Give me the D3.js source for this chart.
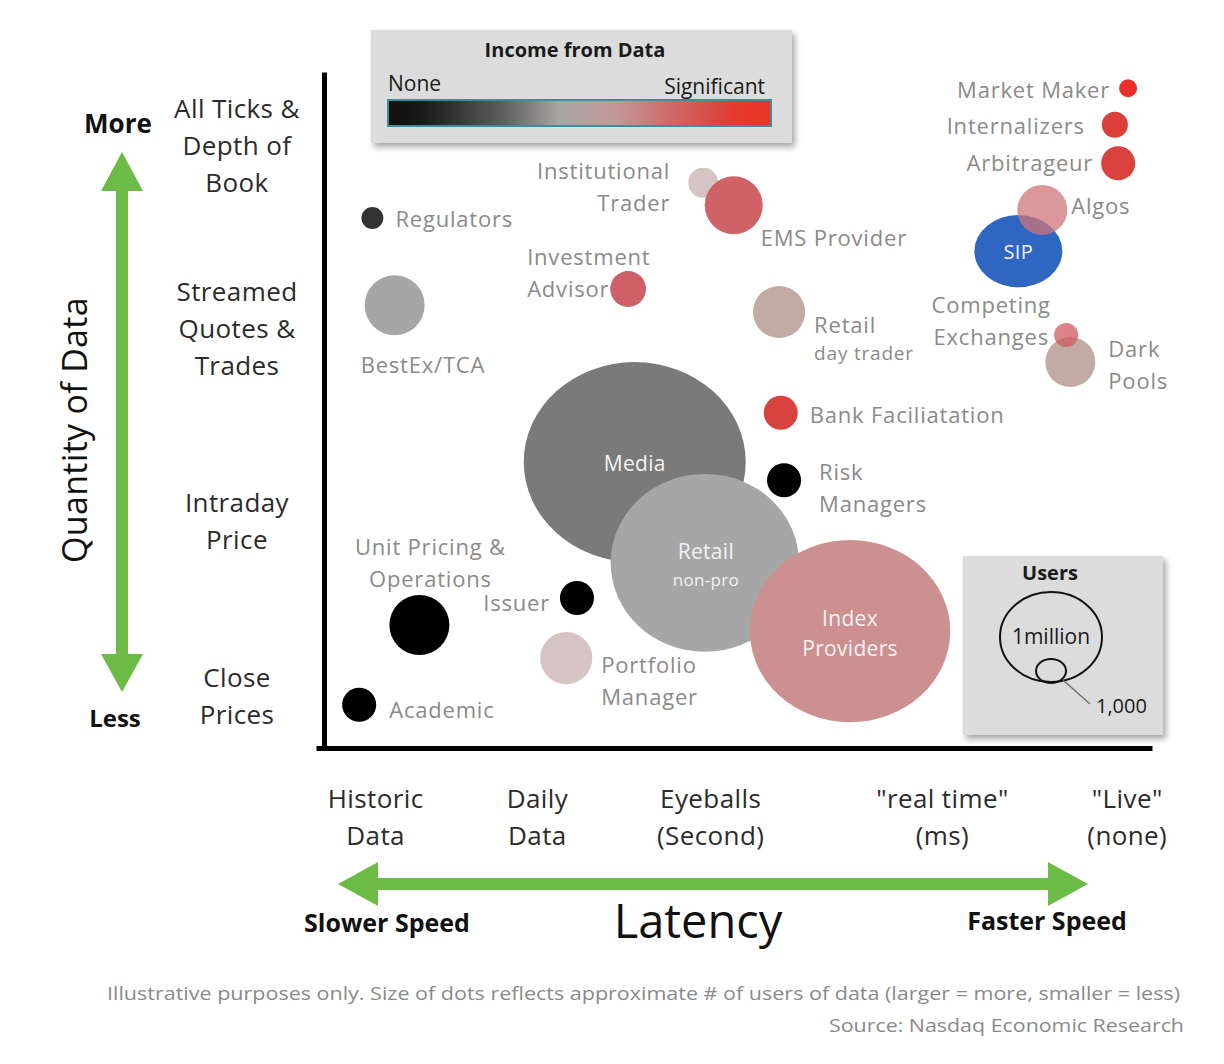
<!DOCTYPE html>
<html><head><meta charset="utf-8">
<script src="https://cdn.jsdelivr.net/npm/d3@7"></script>
<style>
html,body{margin:0;padding:0;background:#fff;}
svg{display:block;font-family:"Open Sans","Noto Sans",sans-serif;}
</style></head>
<body>
<svg id="chart" width="1224" height="1064"></svg>
<script>
// ---------------- DATA ----------------
const names = ["Media","Retail non-pro","Index Providers","SIP","Algos","Market Maker","Internalizers","Arbitrageur",
  "Dark Pools","Competing Exchanges","Institutional Trader","EMS Provider","Investment Advisor","Retail day trader",
  "Regulators","BestEx/TCA","Bank Faciliatation","Risk Managers","Unit Pricing & Operations","Issuer","Portfolio Manager","Academic"];
// latency: 0 = historic data ... 100 = live
const latency  = [37.3,45.8,63.4,83.8,86.7,97.1,95.5,95.9,90.1,89.6,45.6,49.3,36.5,54.8,5.5,8.2,55.0,55.4,11.2,30.3,29.0,3.9];
// quantity of data: 0 = close prices ... 100 = all ticks & depth of book
const quantity = [42.3,27.4,17.3,73.5,79.6,97.6,92.2,86.5,57.1,61.1,83.6,80.3,67.9,64.5,78.4,65.5,49.6,39.6,18.2,22.2,13.3,6.4];
// approximate relative number of users
const users    = [100,79,83,13,6.25,0.8,1.7,2.9,6.25,1.45,2.25,8.4,3.2,6.8,1.2,9,2.9,2.9,9,2.9,6.8,2.9];
// income from data: 0 = none ... 1 = significant (SIP shown separately)
const income   = [0.25,0.38,0.65,null,0.72,1.0,0.92,0.9,0.55,0.8,0.48,0.8,0.78,0.55,0.1,0.38,0.9,0,0,0,0.48,0];

const xCategories = ["Historic\nData","Daily\nData","Eyeballs\n(Second)","\"real time\"\n(ms)","\"Live\"\n(none)"];
const xCategoryValues = [5.9,25.5,46.5,74.6,97.0];
const yCategories = ["All Ticks &\nDepth of\nBook","Streamed\nQuotes &\nTrades","Intraday\nPrice","Close\nPrices"];
const yCategoryValues = [89.2,62.1,33.6,7.7];

// ---------------- STYLE / LAYOUT ----------------
const aspect = {"Media":1.11,"Retail non-pro":1.06,"Index Providers":1.1,"SIP":1.22};
const special = {"SIP":"#2e66c2"};
const translucent = {"Algos":0.75,"Competing Exchanges":0.75,"EMS Provider":0.95};
// label layout relative to bubble centre: [text, dx, dy, size]
const labels = {
 "Market Maker":{a:"end",l:[["Market Maker",-18,1]]},
 "Internalizers":{a:"end",l:[["Internalizers",-30,0]]},
 "Arbitrageur":{a:"end",l:[["Arbitrageur",-25,-1]]},
 "Algos":{a:"start",l:[["Algos",29,-5]]},
 "SIP":{a:"middle",w:true,l:[["SIP",0,0,20]]},
 "Competing Exchanges":{a:"middle",l:[["Competing",-75,-31],["Exchanges",-75,1]]},
 "Dark Pools":{a:"start",l:[["Dark",38,-14],["Pools",38,18]]},
 "Institutional Trader":{a:"end",l:[["Institutional",-33,-13],["Trader",-33,19]]},
 "EMS Provider":{a:"start",l:[["EMS Provider",27,32]]},
 "Investment Advisor":{a:"start",l:[["Investment",-101,-33],["Advisor",-101,-1]]},
 "Retail day trader":{a:"start",l:[["Retail",35,12],["day trader",35,41,19]]},
 "Regulators":{a:"start",l:[["Regulators",23,0]]},
 "BestEx/TCA":{a:"start",l:[["BestEx/TCA",-34,59]]},
 "Bank Faciliatation":{a:"start",l:[["Bank Faciliatation",29,1]]},
 "Risk Managers":{a:"start",l:[["Risk",35,-9],["Managers",35,23]]},
 "Media":{a:"middle",w:true,l:[["Media",0,1,21]]},
 "Retail non-pro":{a:"middle",w:true,l:[["Retail",1,-12,21],["non-pro",1,17,17]]},
 "Index Providers":{a:"middle",w:true,l:[["Index",0,-13,21],["Providers",0,17,21]]},
 "Unit Pricing & Operations":{a:"middle",l:[["Unit Pricing &",11,-79],["Operations",11,-47]]},
 "Issuer":{a:"end",l:[["Issuer",-27,4]]},
 "Portfolio Manager":{a:"start",l:[["Portfolio",35,6],["Manager",35,38]]},
 "Academic":{a:"start",l:[["Academic",30,4]]}
};

const svg = d3.select("#chart");
const x = d3.scaleLinear().domain([0,100]).range([327,1152]);
const y = d3.scaleLinear().domain([0,100]).range([748,72]);
const r = d3.scaleSqrt().domain([0,100]).range([0,100]);
const color = d3.scaleLinear()
  .domain([0,0.1,0.25,0.38,0.48,0.55,0.65,0.79,0.9,1])
  .range(["#000000","#333333","#7a7a7a","#a6a6a6","#d6c4c4","#c2aba5","#cd9090","#cc5c63","#d9423d","#e8302a"]);
const legendColor = d3.scaleLinear()
  .domain([0,0.08,0.3,0.45,0.58,0.72,0.85,0.92,1])
  .range(["#111111","#161616","#5e5e5e","#aaa6a6","#c49c9c","#cc7070","#d74a44","#e8352a","#e8352a"]);

const defs = svg.append("defs");
const sh = defs.append("filter").attr("id","shadow").attr("x","-10%").attr("y","-10%").attr("width","130%").attr("height","140%");
sh.append("feDropShadow").attr("dx",3).attr("dy",4).attr("stdDeviation",3).attr("flood-color","#000").attr("flood-opacity",0.35);
const grad = defs.append("linearGradient").attr("id","incomeGrad");
d3.range(0,1.0001,0.05).forEach(t=>grad.append("stop").attr("offset",t).attr("stop-color",legendColor(t)));

// ---------------- AXES ----------------
svg.append("g").attr("transform","translate(324,0)")
  .call(d3.axisLeft(d3.scaleLinear().domain([0,100]).range([750,72])).tickValues([]).tickSizeOuter(0))
  .call(g=>g.select(".domain").attr("stroke","#000").attr("stroke-width",5));
svg.append("g").attr("transform","translate(0,748)")
  .call(d3.axisBottom(d3.scaleLinear().domain([0,100]).range([316,1152])).tickValues([]).tickSizeOuter(0))
  .call(g=>g.select(".domain").attr("stroke","#000").attr("stroke-width",5));

function multiline(g, txt, cx, cy, lh, size, fill, anchor, weight, ls){
  const lines = txt.split("\n");
  const t = g.append("text").attr("text-anchor",anchor||"middle").attr("font-size",size).attr("fill",fill)
    .attr("font-weight",weight||400).attr("letter-spacing",ls||0);
  lines.forEach((s,i)=>t.append("tspan").attr("x",cx).attr("y",cy+(i-(lines.length-1)/2)*lh).attr("dominant-baseline","central").text(s));
}
const yTicks = svg.append("g");
yCategories.forEach((c,i)=>multiline(yTicks,c,237,y(yCategoryValues[i]),37,26,"#2b2b2b","middle",400,0.4));
const xTicks = svg.append("g");
xCategories.forEach((c,i)=>multiline(xTicks,c,x(xCategoryValues[i]),816,37,26,"#2b2b2b","middle",400,0.4));

// green arrows
const green="#6cbb46";
svg.append("path").attr("fill",green)
  .attr("d","M122,152 L143,191 L128,191 L128,654 L143,654 L122,692 L101,654 L116,654 L116,191 L101,191 Z");
svg.append("path").attr("fill",green)
  .attr("d","M338,884 L378,862 L378,878 L1048,878 L1048,862 L1088,884 L1048,906 L1048,890 L378,890 L378,906 Z");

function label(txt,xx,yy,size,weight,anchor,fill){
  return svg.append("text").attr("x",xx).attr("y",yy).attr("text-anchor",anchor||"middle").attr("dominant-baseline","central")
    .attr("font-size",size).attr("font-weight",weight||400).attr("fill",fill||"#111").text(txt);
}
label("More",118,123,26,700);
label("Less",115,717,24,700);
svg.append("text").attr("transform","translate(74,430) rotate(-90)").attr("text-anchor","middle").attr("dominant-baseline","central")
  .attr("font-size",34).attr("fill","#111").attr("letter-spacing",0.3).text("Quantity of Data");
label("Slower Speed",387,922,25,700);
label("Faster Speed",1047,920,25,700);
label("Latency",698,920,47,500);

// ---------------- BUBBLES ----------------
const data = names.map((n,i)=>({name:n,lat:latency[i],qty:quantity[i],users:users[i],income:income[i]}));
const bub = svg.append("g");
bub.selectAll("ellipse").data(data).join("ellipse")
  .attr("cx",d=>x(d.lat)).attr("cy",d=>y(d.qty))
  .attr("rx",d=>r(d.users)*(aspect[d.name]||1)).attr("ry",d=>r(d.users))
  .attr("fill",d=>special[d.name]||color(d.income))
  .attr("fill-opacity",d=>translucent[d.name]||1);

const lab = svg.append("g");
data.forEach(d=>{
  const L = labels[d.name]; if(!L) return;
  const cx=x(d.lat), cy=y(d.qty);
  L.l.forEach(([s,dx,dy,sz])=>{
    lab.append("text").attr("x",cx+dx).attr("y",cy+dy).attr("text-anchor",L.a).attr("dominant-baseline","central")
      .attr("font-size",sz||22).attr("letter-spacing",L.w?0.3:0.8).attr("fill",L.w?"#f2f2f2":"#8a8a8a").text(s);
  });
});

// ---------------- INCOME LEGEND ----------------
const lg = svg.append("g");
lg.append("rect").attr("x",371).attr("y",30).attr("width",421).attr("height",113).attr("fill","#dcdcdc").attr("filter","url(#shadow)");
lg.append("text").attr("x",575).attr("y",49).attr("text-anchor","middle").attr("dominant-baseline","central")
  .attr("font-size",20).attr("font-weight",700).attr("fill","#1a1a1a").text("Income from Data");
lg.append("text").attr("x",388).attr("y",83).attr("dominant-baseline","central").attr("font-size",21).attr("fill","#1a1a1a").text("None");
lg.append("text").attr("x",765).attr("y",86).attr("text-anchor","end").attr("dominant-baseline","central").attr("font-size",21).attr("fill","#1a1a1a").text("Significant");
lg.append("rect").attr("x",388).attr("y",100).attr("width",383).attr("height",26).attr("fill","url(#incomeGrad)")
  .attr("stroke","#3f8c9c").attr("stroke-width",2);

// ---------------- USERS LEGEND ----------------
const ug = svg.append("g");
ug.append("rect").attr("x",963).attr("y",556).attr("width",200).attr("height",179).attr("fill","#dcdcdc").attr("filter","url(#shadow)");
ug.append("text").attr("x",1050).attr("y",572).attr("text-anchor","middle").attr("dominant-baseline","central")
  .attr("font-size",20).attr("font-weight",700).attr("fill","#1a1a1a").text("Users");
ug.append("ellipse").attr("cx",1051).attr("cy",637).attr("rx",51).attr("ry",45).attr("fill","none").attr("stroke","#111").attr("stroke-width",2);
ug.append("ellipse").attr("cx",1051).attr("cy",671).attr("rx",15).attr("ry",12).attr("fill","none").attr("stroke","#111").attr("stroke-width",2);
ug.append("text").attr("x",1051).attr("y",636).attr("text-anchor","middle").attr("dominant-baseline","central")
  .attr("font-size",21).attr("fill","#1a1a1a").text("1million");
ug.append("line").attr("x1",1063).attr("y1",680).attr("x2",1090).attr("y2",704).attr("stroke","#666").attr("stroke-width",1.2);
ug.append("text").attr("x",1096).attr("y",705).attr("dominant-baseline","central").attr("font-size",20).attr("fill","#1a1a1a").text("1,000");

// ---------------- FOOTNOTES ----------------
svg.append("text").attr("x",1180).attr("y",993).attr("text-anchor","end").attr("dominant-baseline","central")
  .attr("font-size",19).attr("fill","#8a8a8a").attr("textLength",1073).attr("lengthAdjust","spacingAndGlyphs")
  .text("Illustrative purposes only. Size of dots reflects approximate # of users of data (larger = more, smaller = less)");
svg.append("text").attr("x",1184).attr("y",1025).attr("text-anchor","end").attr("dominant-baseline","central")
  .attr("font-size",19).attr("fill","#8a8a8a").attr("textLength",355).attr("lengthAdjust","spacingAndGlyphs")
  .text("Source: Nasdaq Economic Research");
</script>
</body></html>
